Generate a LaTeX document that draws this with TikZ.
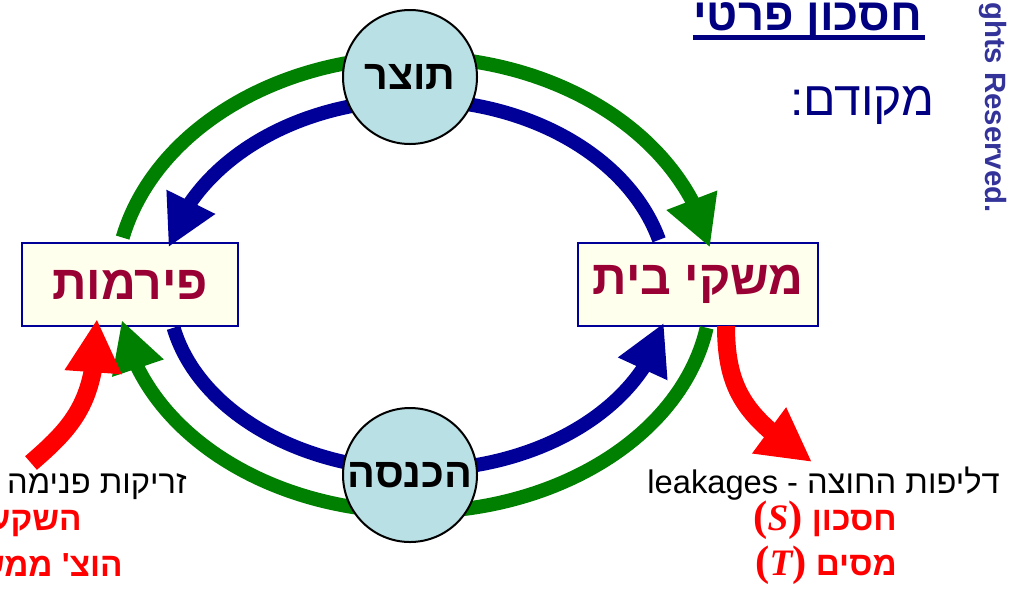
\documentclass[tikz,border=0pt]{standalone}
\usepackage{fontspec}
\setmainfont{Liberation Sans}
\newfontfamily\heb[Script=Hebrew]{Liberation Sans}
\newfontfamily\serifm{Liberation Serif}
\TeXXeTstate=1
\usetikzlibrary{arrows.meta,bending,calc}
\definecolor{flowgreen}{HTML}{008000}
\definecolor{flowblue}{HTML}{000099}
\definecolor{circfill}{HTML}{B9E0E4}
\definecolor{boxfill}{HTML}{FFFFEE}
\definecolor{boxtext}{HTML}{990033}
\definecolor{titleblue}{HTML}{000080}
\definecolor{copyblue}{HTML}{333399}
\newcommand{\varlab}[1]{{\serifm\bfseries\fontsize{32}{34}\selectfont(}{\serifm\itshape\fontsize{28}{34}\selectfont #1}{\serifm\bfseries\fontsize{32}{34}\selectfont)}}
\begin{document}
\begin{tikzpicture}[x=0.75pt,y=0.75pt,
  agent/.style={draw=flowblue, line width=1.5pt, fill=boxfill, minimum height=62.25pt, inner sep=0pt, font=\heb\bfseries\fontsize{36}{40}\selectfont, text=boxtext},
  market/.style={circle, draw=black, line width=1.5pt, fill=circfill, minimum size=100.5pt, inner sep=0pt, font=\heb\bfseries\fontsize{31}{36}\selectfont},
  gflow/.style={draw=flowgreen, line width=10.5pt, -{Triangle[length=38pt,width=38pt,flex]}},
  bflow/.style={draw=flowblue, line width=10.5pt, -{Triangle[length=38pt,width=38pt,flex]}},
  rflow/.style={draw=red, line width=13.5pt, -{Triangle[length=40pt,width=40pt,flex]}},
  txt/.style={anchor=base east, inner sep=0pt, font=\heb\fontsize{24.5}{28}\selectfont},
  redtxt/.style={anchor=base east, inner sep=0pt, text=red, font=\heb\bfseries\fontsize{25}{28}\selectfont},
]
\useasboundingbox (0,0) rectangle (1023,-597);
\fill[white] (0,0) rectangle (1023,-597);

% agents
\node[agent, minimum width=162pt] (firms) at (130,-284.5) {\beginR פירמות\endR};
\node[agent, minimum width=180pt] (house) at (698,-284.5) {\beginR משקי בית\endR};

% flows
\coordinate (O) at (415,-290);
\coordinate (Ob) at (418,-290);
\coordinate (gt1) at ($(O)+(167:300 and 233)$);
\coordinate (bt1) at ($(O)+(15.3:253 and 190)$);
\coordinate (bb1) at ($(Ob)+(192.1:250 and 180)$);
\coordinate (gb1) at ($(O)+(350.2:296 and 222)$);
\draw[gflow] (gt1) arc[start angle=167, end angle=10.5, x radius=300, y radius=233];
\draw[bflow] (bt1) arc[start angle=15.3, end angle=167, x radius=253, y radius=190];
\draw[bflow] (bb1) arc[start angle=192.1, end angle=349.5, x radius=250, y radius=180];
\draw[gflow] (gb1) arc[start angle=350.2, end angle=187.8, x radius=296, y radius=222];

\coordinate (rl0) at (31,-463);
\coordinate (rl1) at (97,-319);
\coordinate (rr0) at (726,-326);
\coordinate (rr1) at (812,-462);
\draw[rflow] (rl0) .. controls (75,-425) and (97,-400) .. (rl1);
\draw[rflow] (rr0) .. controls (726,-395) and (750,-420) .. (rr1);

% markets
\node[market] (prod) at (410,-77) {\beginR תוצר\endR};
\node[market] (inc) at (410,-475) {\beginR הכנסה\endR};

% texts
\node[anchor=base east, inner sep=0pt, text=titleblue, font=\heb\bfseries\fontsize{34}{38}\selectfont] (title) at (922,-30) {\beginR חסכון פרטי\endR};
\draw[titleblue, line width=4pt] ($(title.base west)+(0,-7.5)$) -- ($(title.base east)+(3,-7.5)$);
\node[anchor=base east, inner sep=0pt, text=titleblue, font=\heb\fontsize{36}{40}\selectfont] (prev) at (935,-115) {\beginR מקודם:\endR};

\node[txt] (inj) at (187,-493) {\beginR זריקות פנימה\endR};
\node[redtxt] (inv) at (82,-530) {\varlab{I} \beginR השקעות\endR};
\node[redtxt] (gov) at (123,-576) {\varlab{G} \beginR הוצ' ממשלה\endR};

\node[txt] (leak) at (1000,-493) {leakages - \beginR דליפות החוצה\endR};
\node[redtxt] (sav) at (897,-530) {\varlab{S} \beginR חסכון\endR};
\node[redtxt] (tax) at (897,-575) {\varlab{T} \beginR מסים\endR};

\node[rotate=-90, anchor=base west, inner sep=0pt, text=copyblue, font=\bfseries\fontsize{22}{26}\selectfont] (rights) at (985,-2) {ghts Reserved.};
\end{tikzpicture}
\end{document}
